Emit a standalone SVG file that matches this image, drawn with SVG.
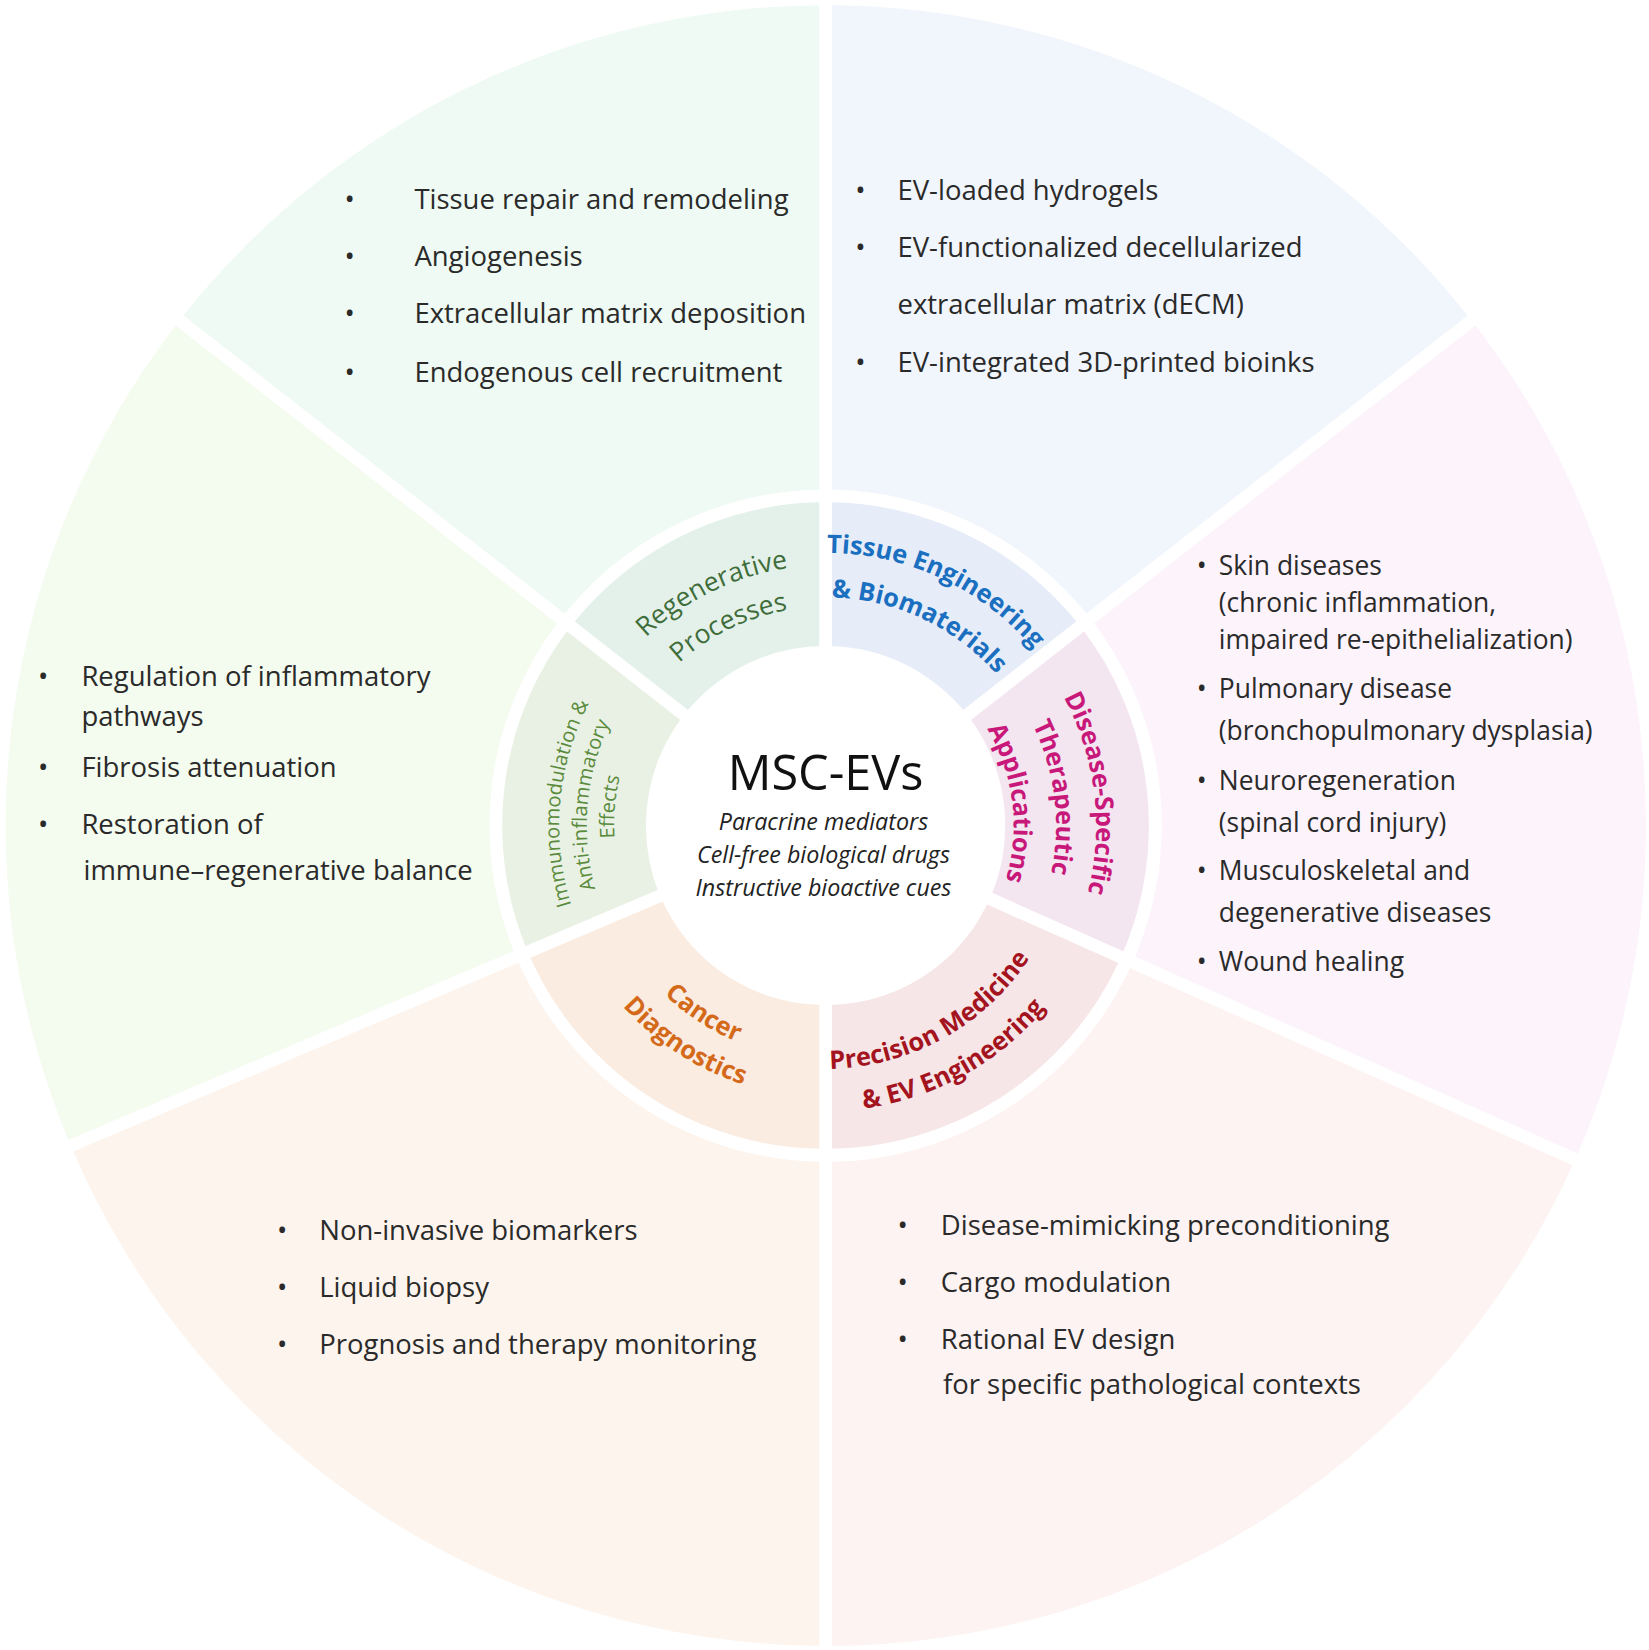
<svg xmlns="http://www.w3.org/2000/svg" width="1649" height="1650" viewBox="0 0 1649 1650">
<style>
.b{font-family:"Open Sans","Noto Sans",sans-serif;font-size:26px;fill:#2a2a2a}
.r{font-family:"Open Sans","Noto Sans",sans-serif;font-size:25px;fill:#2a2a2a}
.lab{font-family:"Open Sans","Noto Sans",sans-serif;font-size:24px;font-weight:bold}
.sep{stroke:#fff;stroke-width:12;fill:none}
</style>
<defs>
<path id="pr1" d="M536.3,806.7 A246,246 0 0 1 951.9,604.0"/>
<path id="pr2" d="M575.1,802.6 A207,207 0 0 1 924.8,632.1"/>
<path id="pt1" d="M598.5,598.5 A258,258 0 0 1 1038,803.5"/>
<path id="pt2" d="M628.3,628.3 A216,216 0 0 1 996.2,799.8"/>
<path id="pd1" d="M838.6,531.6 A256,256 0 0 1 897.2,1009.1"/>
<path id="pd2" d="M830.1,568.6 A218,218 0 0 1 880,975.2"/>
<path id="pd3" d="M821.1,607.6 A178,178 0 0 1 861.8,939.6"/>
<path id="pi1" d="M674.5,1009.4 A252,252 0 0 1 715.8,537.6"/>
<path id="pi2" d="M685.5,985.8 A226,226 0 0 1 722.5,562.7"/>
<path id="pi3" d="M696.5,962.3 A200,200 0 0 1 729.2,587.8"/>
<path id="pp1" d="M630.1,954.6 A230,230 0 0 0 1008.2,745"/>
<path id="pp2" d="M603.9,984.8 A270,270 0 0 0 1047.7,738.8"/>
<path id="pc1" d="M565.7,731.3 A221,221 0 0 0 914,957.5"/>
<path id="pc2" d="M530.6,723.2 A257,257 0 0 0 935.7,986.2"/>
</defs>
<rect width="1649" height="1650" fill="#fff"/>
<g transform="scale(1.0571)">
<g id="outer-sectors">
<path d="M781,781 L170,303 A776,776 0 0 1 781,5 Z" fill="#eefaf3"/>
<path d="M781,781 L781,5 A776,776 0 0 1 1392,303 Z" fill="#f1f5fc"/>
<path d="M781,781 L1392,303 A776,776 0 0 1 1490,1097 Z" fill="#fcf3fb"/>
<path d="M781,781 L1490,1097 A776,776 0 0 1 781,1557 Z" fill="#fdf3f2"/>
<path d="M781,781 L781,1557 A776,776 0 0 1 67,1084 Z" fill="#fdf4ed"/>
<path d="M781,781 L67,1084 A776,776 0 0 1 170,303 Z" fill="#f4fbef"/>
</g>
<g id="inner-ring">
<path d="M781,781 L539.9,592.6 A306,306 0 0 1 781,475 Z" fill="#e3f1ea"/>
<path d="M781,781 L781,475 A306,306 0 0 1 1022,593 Z" fill="#e6edf8"/>
<path d="M781,781 L1022,593 A306,306 0 0 1 1060.5,905.5 Z" fill="#f3e6f1"/>
<path d="M781,781 L1060.5,905.5 A306,306 0 0 1 781,1087 Z" fill="#f7e6e7"/>
<path d="M781,781 L781,1087 A306,306 0 0 1 499.3,900.6 Z" fill="#fbece1"/>
<path d="M781,781 L499.3,900.6 A306,306 0 0 1 539.9,592.6 Z" fill="#e8f1e3"/>
</g>
<g id="connectors">
<line class="sep" x1="781" y1="781" x2="781" y2="0"/>
<line class="sep" x1="781" y1="781" x2="781" y2="1562"/>
<line class="sep" x1="781" y1="781" x2="166" y2="300"/>
<line class="sep" x1="781" y1="781" x2="1396" y2="300"/>
<line class="sep" x1="781" y1="781" x2="62" y2="1086"/>
<line class="sep" x1="781" y1="781" x2="1495" y2="1099"/>
<circle class="sep" cx="781" cy="781" r="312" stroke-width="13"/>
<circle cx="781" cy="781" r="170" fill="#fff"/>
</g>
<g id="center">
<text x="781" y="747" text-anchor="middle" font-family="Open Sans,Noto Sans,sans-serif" font-size="46" fill="#111">MSC-EVs</text>
<g font-family="Open Sans,Noto Sans,sans-serif" font-size="22" font-style="italic" fill="#222" text-anchor="middle">
<text x="779" y="785">Paracrine mediators</text>
<text x="779" y="816">Cell-free biological drugs</text>
<text x="779" y="848">Instructive bioactive cues</text>
</g>
</g>
<g id="label-regenerative" font-family="Open Sans,Noto Sans,sans-serif" font-size="25" fill="#3f6d3a" text-anchor="middle">
<text><textPath href="#pr1" startOffset="50%">Regenerative</textPath></text>
<text><textPath href="#pr2" startOffset="50%">Processes</textPath></text>
</g>
<g id="label-tissue" text-anchor="middle">
<text class="lab" fill="#1a6fc0"><textPath href="#pt1" startOffset="50%">Tissue Engineering</textPath></text>
<text class="lab" fill="#1a6fc0"><textPath href="#pt2" startOffset="50%">&amp; Biomaterials</textPath></text>
</g>
<g id="label-disease" text-anchor="middle">
<text class="lab" fill="#c8187a"><textPath href="#pd1" startOffset="50%">Disease-Specific</textPath></text>
<text class="lab" fill="#c8187a"><textPath href="#pd2" startOffset="50%">Therapeutic</textPath></text>
<text class="lab" fill="#c8187a"><textPath href="#pd3" startOffset="50%">Applications</textPath></text>
</g>
<g id="label-immuno" font-family="Open Sans,Noto Sans,sans-serif" font-size="19" fill="#5a8a3c" text-anchor="middle">
<text><textPath href="#pi1" startOffset="50%">Immunomodulation &amp;</textPath></text>
<text><textPath href="#pi2" startOffset="50%">Anti-inflammatory</textPath></text>
<text><textPath href="#pi3" startOffset="50%">Effects</textPath></text>
</g>
<g id="label-precision" text-anchor="middle">
<text class="lab" fill="#a3141f"><textPath href="#pp1" startOffset="50%">Precision Medicine</textPath></text>
<text class="lab" fill="#a3141f"><textPath href="#pp2" startOffset="50%">&amp; EV Engineering</textPath></text>
</g>
<g id="label-cancer" text-anchor="middle">
<text class="lab" fill="#d4691a"><textPath href="#pc1" startOffset="50%">Cancer</textPath></text>
<text class="lab" fill="#d4691a"><textPath href="#pc2" startOffset="50%">Diagnostics</textPath></text>
</g>
<g id="list-regenerative">
<text class="b" x="326" y="198">•</text><text class="b" x="392" y="198">Tissue repair and remodeling</text>
<text class="b" x="326" y="252">•</text><text class="b" x="392" y="252">Angiogenesis</text>
<text class="b" x="326" y="306">•</text><text class="b" x="392" y="306">Extracellular matrix deposition</text>
<text class="b" x="326" y="361">•</text><text class="b" x="392" y="361">Endogenous cell recruitment</text>
</g>
<g id="list-tissue">
<text class="b" x="809" y="189">•</text><text class="b" x="849" y="189">EV-loaded hydrogels</text>
<text class="b" x="809" y="243">•</text><text class="b" x="849" y="243">EV-functionalized decellularized</text>
<text class="b" x="849" y="297">extracellular matrix (dECM)</text>
<text class="b" x="809" y="352">•</text><text class="b" x="849" y="352">EV-integrated 3D-printed bioinks</text>
</g>
<g id="list-disease">
<text class="r" x="1132" y="544">•</text><text class="r" x="1153" y="544">Skin diseases</text>
<text class="r" x="1153" y="579">(chronic inflammation,</text>
<text class="r" x="1153" y="614">impaired re-epithelialization)</text>
<text class="r" x="1132" y="660">•</text><text class="r" x="1153" y="660">Pulmonary disease</text>
<text class="r" x="1153" y="700">(bronchopulmonary dysplasia)</text>
<text class="r" x="1132" y="747">•</text><text class="r" x="1153" y="747">Neuroregeneration</text>
<text class="r" x="1153" y="787">(spinal cord injury)</text>
<text class="r" x="1132" y="832">•</text><text class="r" x="1153" y="832">Musculoskeletal and</text>
<text class="r" x="1153" y="872">degenerative diseases</text>
<text class="r" x="1132" y="919">•</text><text class="r" x="1153" y="919">Wound healing</text>
</g>
<g id="list-immuno">
<text class="b" x="36" y="649">•</text><text class="b" x="77" y="649">Regulation of inflammatory</text>
<text class="b" x="77" y="687">pathways</text>
<text class="b" x="36" y="735">•</text><text class="b" x="77" y="735">Fibrosis attenuation</text>
<text class="b" x="36" y="789">•</text><text class="b" x="77" y="789">Restoration of</text>
<text class="b" x="79" y="832">immune–regenerative balance</text>
</g>
<g id="list-cancer">
<text class="b" x="262" y="1173">•</text><text class="b" x="302" y="1173">Non-invasive biomarkers</text>
<text class="b" x="262" y="1227">•</text><text class="b" x="302" y="1227">Liquid biopsy</text>
<text class="b" x="262" y="1281">•</text><text class="b" x="302" y="1281">Prognosis and therapy monitoring</text>
</g>
<g id="list-precision">
<text class="b" x="849" y="1168">•</text><text class="b" x="890" y="1168">Disease-mimicking preconditioning</text>
<text class="b" x="849" y="1222">•</text><text class="b" x="890" y="1222">Cargo modulation</text>
<text class="b" x="849" y="1276">•</text><text class="b" x="890" y="1276">Rational EV design</text>
<text class="b" x="892" y="1319">for specific pathological contexts</text>
</g>
</g>
</svg>
